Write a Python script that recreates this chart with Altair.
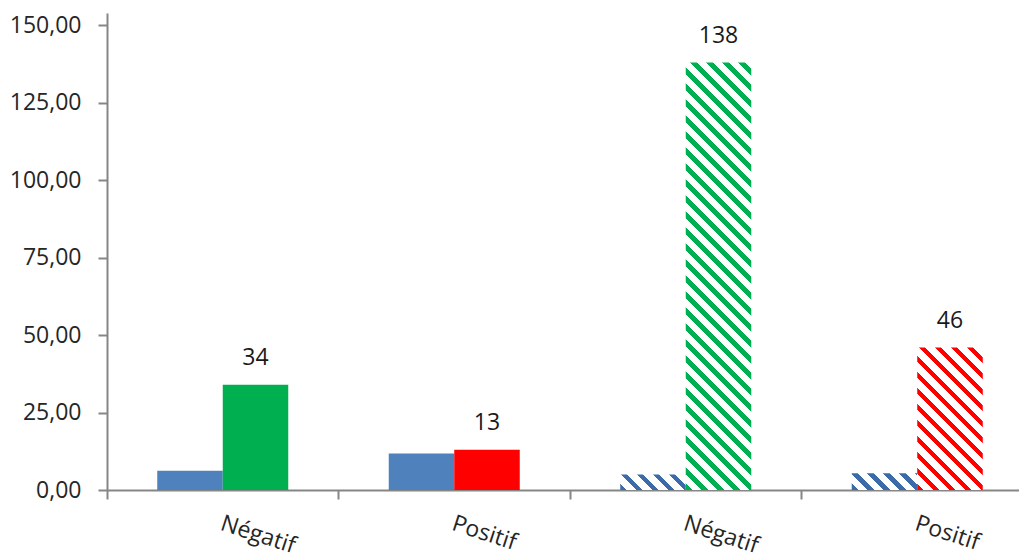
import altair as alt
import pandas as pd

# Categories (two "Négatif"/"Positif" pairs), keyed by position
group_ids = [0, 1, 2, 3]
group_labels = ["Négatif", "Positif", "Négatif", "Positif"]

# Reference bar (blue) and result bar (green / red) per category
base_values = [6.2, 11.8, 5.0, 5.4]
result_values = [34, 13, 138, 46]
base_colors = ["#4f81bd", "#4f81bd", "#3d6aa8", "#3d6aa8"]
result_colors = ["#00b050", "#ff0000", "#00b050", "#ff0000"]
hatched = [False, False, True, True]

y_ticks = [0, 25, 50, 75, 100, 125, 150]

# Layout constants
PLOT_W = 912        # visible plot width
X_RANGE = 926       # full band range (last group runs past the right edge)
PLOT_H = 477
Y_MAX = 154
PAD_OUTER = 0.767   # outer padding of the two bars inside a group
AXIS_GREY = "#868686"
FONT = "Open Sans"

rows = []
for g, bv, rv, bc, rc, h in zip(group_ids, base_values, result_values,
                                base_colors, result_colors, hatched):
    rows.append(dict(group=g, series="base", value=bv, color=bc, hatched=h))
    rows.append(dict(group=g, series="result", value=rv, color=rc, hatched=h))
df = pd.DataFrame(rows)
df["bar"] = range(len(df))


def hatch_fill(color, value, period=16.0, ink=0.42):
    """Diagonal stripe fill built as a bounding-box linear gradient."""
    step = X_RANGE / len(group_ids)
    w = step / (2 + 2 * PAD_OUTER)
    h = max(value * PLOT_H / Y_MAX, 1.0)
    span = w + h
    m = span / (w * w + h * h)
    stops = []
    k = 0
    while k * period < span:
        t0 = k * period / span
        t1 = min((k + ink) * period / span, 1.0)
        t2 = min((k + 1) * period / span, 1.0)
        stops += [
            {"offset": t0, "color": color},
            {"offset": t1, "color": color},
            {"offset": t1, "color": "#ffffff"},
            {"offset": t2, "color": "#ffffff"},
        ]
        k += 1
    return {"gradient": "linear", "x1": 0, "y1": 1,
            "x2": m * w, "y2": 1 - m * h, "stops": stops}


label_lookup = "[" + ",".join(f"'{s}'" for s in group_labels) + "][datum.value]"

x_scale = alt.Scale(range=[0, X_RANGE], paddingInner=0, paddingOuter=0)
x_enc = alt.X(
    "group:O",
    scale=x_scale,
    axis=alt.Axis(
        title=None,
        bandPosition=0,
        labelExpr=label_lookup,
        labelAngle=18,
        labelAlign="left",
        labelBaseline="top",
        labelOffset=2,
        labelPadding=13,
        labelFont=FONT,
        labelFontSize=23,
        labelColor="#262626",
        labelOverlap=False,
        labelBound=False,
        labelFlush=False,
        domainColor=AXIS_GREY,
        domainWidth=2,
        tickColor=AXIS_GREY,
        tickWidth=2,
        tickSize=9,
    ),
)
xoff_enc = alt.XOffset(
    "series:N",
    scale=alt.Scale(domain=["base", "result"], paddingOuter=PAD_OUTER, paddingInner=0),
)
y_enc = alt.Y(
    "value:Q",
    scale=alt.Scale(domain=[0, Y_MAX], nice=False, zero=True),
    axis=alt.Axis(
        title=None,
        values=y_ticks,
        labelExpr="replace(format(datum.value, '.2f'), '.', ',')",
        labelFont=FONT,
        labelFontSize=23,
        labelColor="#262626",
        labelPadding=17,
        domainColor=AXIS_GREY,
        domainWidth=2,
        tickColor=AXIS_GREY,
        tickWidth=2,
        tickSize=9,
        grid=False,
    ),
)

base = alt.Chart(df)

solid = base.transform_filter("!datum.hatched").mark_bar().encode(
    x=x_enc, xOffset=xoff_enc, y=y_enc,
    color=alt.Color("color:N", scale=None),
)

layers = [solid]
for r in df[df["hatched"]].itertuples():
    layers.append(
        base.transform_filter(f"datum.bar == {r.bar}")
        .mark_bar(fill=hatch_fill(r.color, r.value))
        .encode(x=x_enc, xOffset=xoff_enc, y=y_enc)
    )

labels = base.transform_filter("datum.series == 'result'").mark_text(
    font=FONT, fontSize=23, color="#1a1a1a", baseline="alphabetic", dy=-20
).encode(
    x=x_enc, xOffset=xoff_enc, y=y_enc,
    text=alt.Text("value:Q", format="d"),
)
layers.append(labels)

chart = alt.layer(*layers).properties(
    width=PLOT_W,
    height=PLOT_H,
    autosize=alt.AutoSizeParams(type="none"),
    padding={"left": 107, "top": 13, "right": 0, "bottom": 70},
    background="#ffffff",
).configure_view(stroke=None)

chart.save("out.html", embed_options={"renderer": "svg", "actions": False})
